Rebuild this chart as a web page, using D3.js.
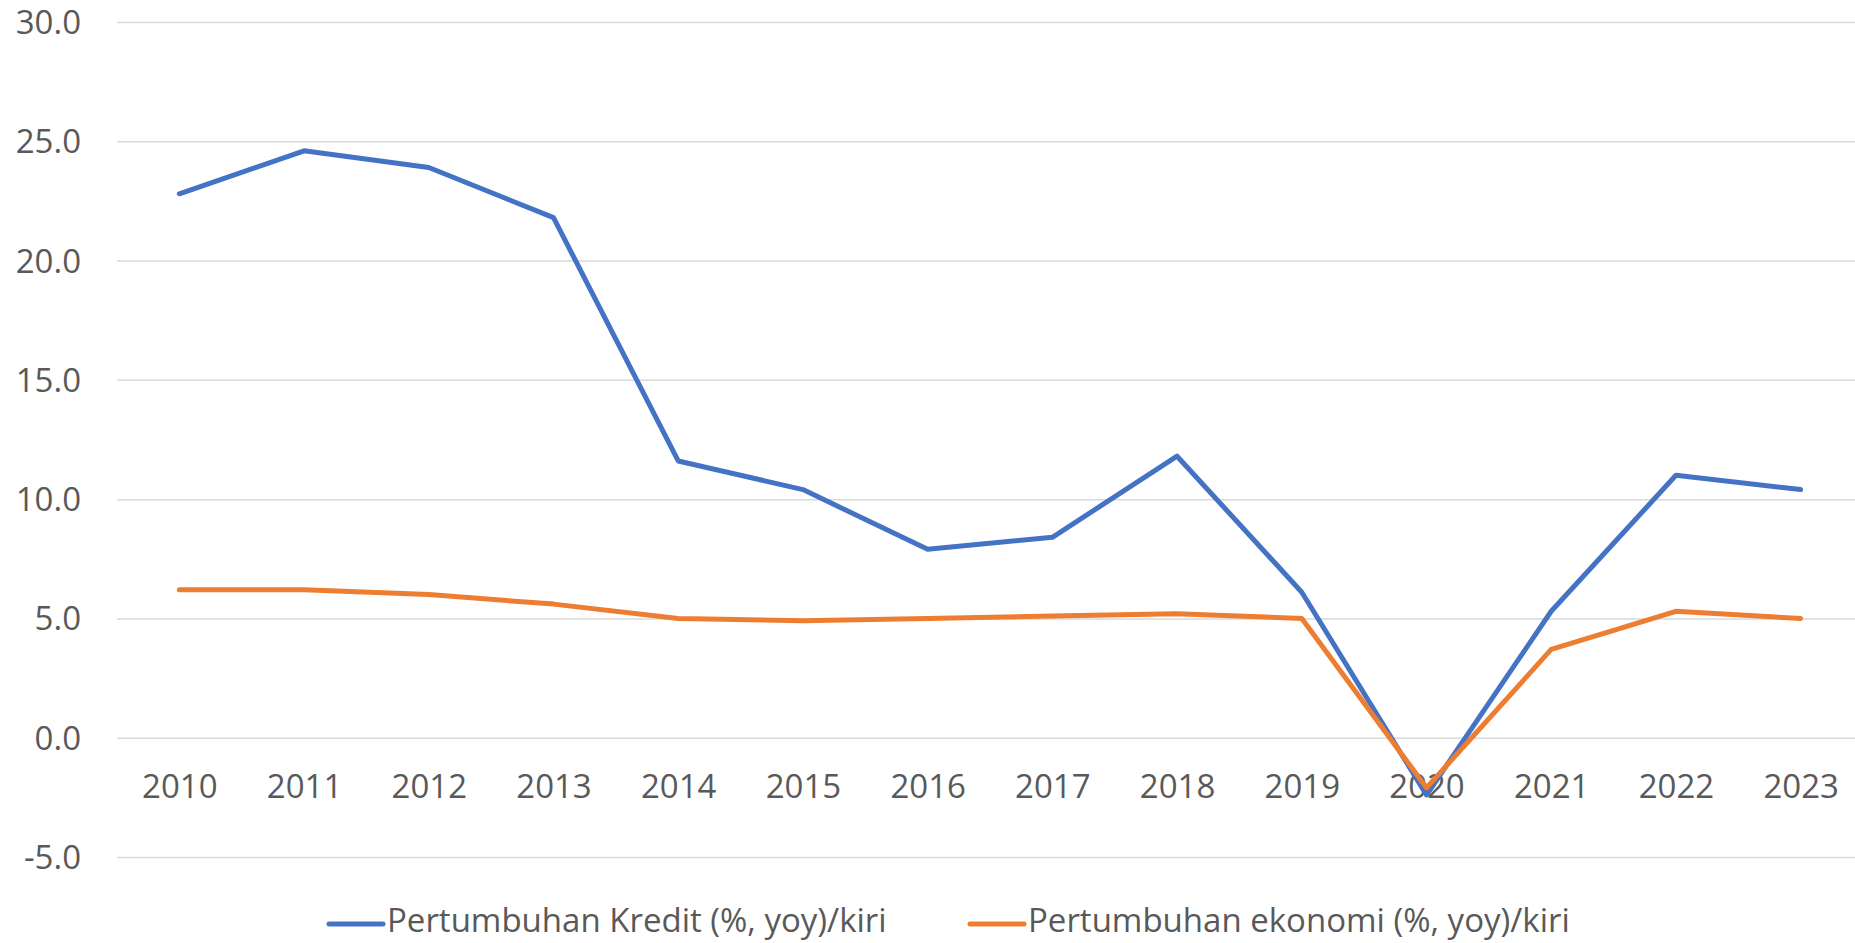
<!DOCTYPE html>
<html><head><meta charset="utf-8">
<script src="https://cdn.jsdelivr.net/npm/d3@7"></script>
<style>
html,body{margin:0;padding:0;background:#fff;overflow:hidden;}
svg{display:block;}
svg text{font-family:"Open Sans",sans-serif;}
</style></head>
<body>
<svg id="chart" width="1855" height="943"></svg>
<script>
const years = ["2010","2011","2012","2013","2014","2015","2016","2017","2018","2019","2020","2021","2022","2023"];
const kredit = [22.8,24.6,23.9,21.8,11.6,10.4,7.9,8.4,11.8,6.1,-2.4,5.3,11.0,10.4];
const ekonomi = [6.2,6.2,6.0,5.6,5.0,4.9,5.0,5.1,5.2,5.0,-2.1,3.7,5.3,5.0];
const yTicks = [-5,0,5,10,15,20,25,30];
const seriesNames = ["Pertumbuhan Kredit (%, yoy)/kiri","Pertumbuhan ekonomi (%, yoy)/kiri"];
const seriesColors = ["#4472C4","#ED7D31"];

const svg = d3.select("#chart");
const W = 1855;
const plotLeft = 117, plotRight = 1863;
const FONT = '"Open Sans", sans-serif';
const FS = 33;
const x = d3.scalePoint().domain(years).range([plotLeft, plotRight]).padding(0.5);
const y = d3.scaleLinear().domain([-5,30]).range([857,22]);

// gridlines
const yAxis = d3.axisLeft(y).tickValues(yTicks).tickSize(-(W-plotLeft)).tickFormat(d=>d.toFixed(1));
const gy = svg.append("g").attr("transform",`translate(${plotLeft},0)`).call(yAxis)
  .attr("font-family",FONT).attr("font-size",FS);
gy.select(".domain").remove();
gy.selectAll(".tick line").attr("stroke","#d9d9d9").attr("stroke-width",1.5);
gy.selectAll(".tick text").attr("x",-36).attr("fill","#595959").attr("dy","0.35em");

// x axis labels
const xAxis = d3.axisBottom(x).tickSize(0);
const gx = svg.append("g").attr("transform",`translate(0,${y(0)})`).call(xAxis)
  .attr("font-family",FONT).attr("font-size",FS);
gx.select(".domain").remove();
gx.selectAll(".tick text").attr("y",49).attr("dy","0.35em").attr("fill","#595959");

const line = d3.line().x((d,i)=>x(years[i])).y(d=>y(d));
[kredit, ekonomi].forEach((s,k)=>{
  svg.append("path").datum(s).attr("d",line).attr("fill","none")
    .attr("stroke",seriesColors[k]).attr("stroke-width",5)
    .attr("stroke-linejoin","round").attr("stroke-linecap","round");
});

// legend
const legX = [329, 970];
const legY = 924;
seriesNames.forEach((n,k)=>{
  const g = svg.append("g").attr("transform",`translate(${legX[k]},${legY})`);
  g.append("line").attr("x1",0).attr("x2",54).attr("y1",0).attr("y2",0)
    .attr("stroke",seriesColors[k]).attr("stroke-width",5).attr("stroke-linecap","round");
  g.append("text").attr("x",58).attr("y",-4).attr("dy","0.35em").attr("fill","#595959")
    .attr("font-family",FONT).attr("font-size",FS).text(n);
});
</script>
</body></html>
